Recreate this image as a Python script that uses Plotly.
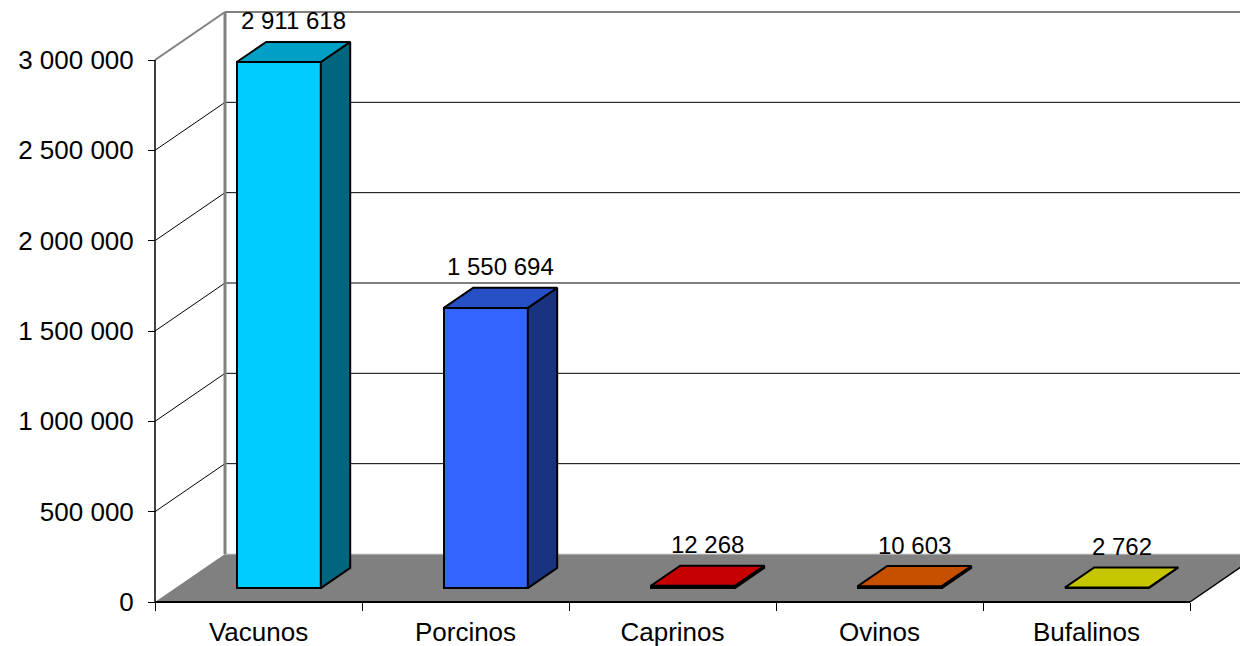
import plotly.graph_objects as go

# ---- data ----
categories = ["Vacunos", "Porcinos", "Caprinos", "Ovinos", "Bufalinos"]
values = [2911618, 1550694, 12268, 10603, 2762]
labels = ["2 911 618", "1 550 694", "12 268", "10 603", "2 762"]
front_colors = ["#00CCFF", "#3366FF", "#FF0000", "#FF6600", "#FFFF00"]
y_ticks = [0, 500000, 1000000, 1500000, 2000000, 2500000, 3000000]

# ---- geometry helpers (pixel scale of the reference) ----
W, H = 1240, 638
ML, MR, MT, MB = 142, 0, 0, 40
PX_X = 207.0                 # px per category
PX_Y = 542.0 / 3e6           # px per unit value
plot_w = W - ML - MR
plot_h = H - MT - MB
DX = 70.0 / PX_X             # depth offset (x units)
DY = 48.0 / PX_Y             # depth offset (y units)
F0, F1 = 0.29, 0.71          # bar depth fraction
BW = 84.0 / PX_X             # bar width

x0 = -0.5 - 5 / PX_X
xr = [x0, x0 + plot_w / PX_X]
yr = [-4 / PX_Y, (plot_h - 4) / PX_Y]
ymax = y_ticks[-1]


def shade(hexc, f):
    h = hexc.lstrip("#")
    r, g, b = (int(h[i:i + 2], 16) for i in (0, 2, 4))
    return "rgb(%d,%d,%d)" % (r * f, g * f, b * f)


fig = go.Figure()

n = len(categories)
xc = [i + F0 * DX for i in range(n)]

# front faces
fig.add_trace(go.Bar(
    x=xc, y=values, base=[F0 * DY] * n, width=BW,
    marker=dict(color=front_colors, line=dict(color="black", width=2)),
    hoverinfo="skip", showlegend=False,
))

# top and side faces
for i, v in enumerate(values):
    xl = xc[i] - BW / 2
    xrr = xc[i] + BW / 2
    ddx = (F1 - F0) * DX
    yb0, yb1 = F0 * DY, F1 * DY
    fig.add_trace(go.Scatter(
        x=[xrr, xrr + ddx, xrr + ddx, xrr, xrr],
        y=[yb0, yb1, yb1 + v, yb0 + v, yb0],
        fill="toself", fillcolor=shade(front_colors[i], 0.5),
        mode="lines", line=dict(color="black", width=2),
        hoverinfo="skip", showlegend=False,
    ))
    fig.add_trace(go.Scatter(
        x=[xl, xrr, xrr + ddx, xl + ddx, xl],
        y=[yb0 + v, yb0 + v, yb1 + v, yb1 + v, yb0 + v],
        fill="toself", fillcolor=shade(front_colors[i], 0.78),
        mode="lines", line=dict(color="black", width=2),
        hoverinfo="skip", showlegend=False,
    ))
    fig.add_annotation(
        x=xc[i] + ddx / 2, y=yb1 + v, text=labels[i], showarrow=False,
        yanchor="middle", yshift=21,
        font=dict(family="Liberation Sans, Arial", size=24, color="black"),
    )

shapes = []
xend = xr[1] + 1
# floor
shapes.append(dict(type="path", xref="x", yref="y", layer="below",
                   path="M %f,0 L %f,0 L %f,%f L %f,%f Z" % (
                       -0.5, n - 0.5, n - 0.5 + DX, DY, -0.5 + DX, DY),
                   fillcolor="#808080", line=dict(width=0)))
# back wall gridlines
for t in y_ticks:
    col = "#808080" if t == ymax else ("#D0D0D0" if t == 0 else "black")
    wdt = 2 if t == ymax else 1
    shapes.append(dict(type="line", xref="x", yref="y", layer="below",
                       x0=-0.5 + DX, x1=xend, y0=DY + t, y1=DY + t,
                       line=dict(color=col, width=wdt)))
    if t > 0:
        shapes.append(dict(type="line", xref="x", yref="y", layer="below",
                           x0=-0.5, x1=-0.5 + DX, y0=t, y1=DY + t,
                           line=dict(color=col, width=wdt)))
# back wall left edge
shapes.append(dict(type="line", xref="x", yref="y", layer="below",
                   x0=-0.5 + DX, x1=-0.5 + DX, y0=DY, y1=DY + ymax,
                   line=dict(color="#808080", width=3)))
# front vertical axis line
shapes.append(dict(type="line", xref="x", yref="y", layer="below",
                   x0=-0.5, x1=-0.5, y0=0, y1=ymax,
                   line=dict(color="black", width=1.5)))
# floor front edge and right edge
shapes.append(dict(type="line", xref="x", yref="y", layer="below",
                   x0=-0.5, x1=n - 0.5, y0=0, y1=0,
                   line=dict(color="black", width=2)))
shapes.append(dict(type="line", xref="x", yref="y", layer="below",
                   x0=n - 0.5, x1=n - 0.5 + DX, y0=0, y1=DY,
                   line=dict(color="black", width=1.5)))

font_ax = dict(family="Liberation Sans, Arial", size=26, color="black")

fig.update_layout(
    width=W, height=H,
    margin=dict(l=ML, r=MR, t=MT, b=MB, pad=0),
    paper_bgcolor="white", plot_bgcolor="white",
    separators=". ",
    shapes=shapes,
    bargap=0,
    xaxis=dict(
        range=xr, anchor="free", position=4 / plot_h,
        tickvals=list(range(n)), ticktext=categories, ticks="",
        tickfont=dict(family="Liberation Sans, Arial", size=26, color="black"),
        showgrid=False, zeroline=False, showline=False,
        minor=dict(tickvals=[i - 0.5 for i in range(n + 1)], ticks="outside",
                   ticklen=8, tickcolor="black", tickwidth=1, showgrid=False),
        ticklabelstandoff=12,
    ),
    yaxis=dict(
        range=yr, anchor="free", position=5 / plot_w,
        tickvals=y_ticks, tickformat=",d", ticks="outside", ticklen=7,
        tickcolor="black", tickwidth=1, tickfont=font_ax,
        showgrid=False, zeroline=False, showline=False,
        ticklabelstandoff=9,
    ),
)

fig.write_html("out.html")
